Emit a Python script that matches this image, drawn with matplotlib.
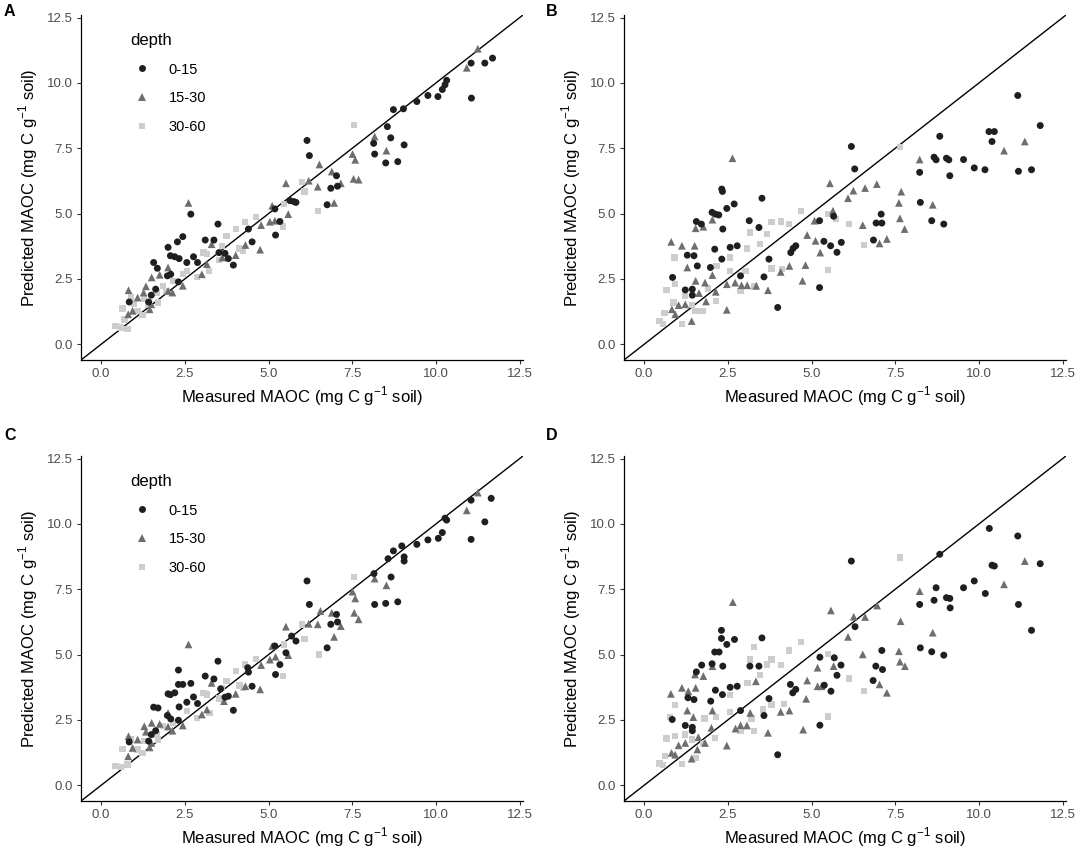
import matplotlib
matplotlib.use("Agg")
import matplotlib.pyplot as plt
from matplotlib.lines import Line2D

plt.rcParams['font.family'] = ['Liberation Sans', 'DejaVu Sans']

# ---------------- data (measured x, predicted y) ----------------
depth_labels = ["0-15", "15-30", "30-60"]
panel_letters = ["A", "B", "C", "D"]
tick_values = [0.0, 2.5, 5.0, 7.5, 10.0, 12.5]

# Panel A
a015_x = [11.69, 11.46, 11.05, 11.06, 10.32, 10.27, 10.19, 10.06, 9.76, 9.43, 9.03, 8.73, 9.05, 8.55, 8.65, 8.14, 8.17, 8.50, 8.86, 6.15,
          6.22, 6.75, 6.86, 7.03, 7.06, 5.19, 5.21, 5.34, 5.64, 5.76, 5.82, 4.40, 4.51, 3.49, 3.37, 3.11, 3.52, 3.70, 3.80, 3.95,
          2.68, 2.44, 2.28, 2.00, 2.07, 2.20, 2.33, 2.56, 2.76, 2.88, 1.98, 2.08, 2.31, 1.57, 1.68, 1.63, 1.50, 1.42, 0.84]
a015_y = [10.95, 10.76, 10.76, 9.42, 10.10, 9.93, 9.75, 9.48, 9.52, 9.29, 9.01, 8.98, 7.63, 8.33, 7.90, 7.69, 7.28, 6.94, 6.99, 7.80,
          7.22, 5.34, 5.97, 6.45, 6.05, 5.18, 4.18, 4.70, 5.50, 5.46, 5.43, 4.41, 3.92, 4.60, 3.99, 3.99, 3.51, 3.48, 3.28, 3.03,
          4.98, 4.12, 3.92, 3.71, 3.39, 3.35, 3.28, 3.13, 3.35, 3.13, 2.62, 2.68, 2.39, 3.13, 2.91, 2.11, 1.88, 1.62, 1.62]
a1530_x = [11.25, 10.92, 8.17, 8.52, 7.51, 7.59, 7.54, 7.69, 6.52, 6.89, 6.47, 6.20, 7.16, 6.96, 5.52, 5.11, 5.04, 5.19, 5.59, 4.78,
           4.31, 4.02, 4.75, 3.62, 3.30, 3.16, 3.01, 2.61, 2.44, 2.13, 2.00, 1.75, 1.51, 1.34, 1.27, 0.82, 1.09, 0.94, 0.81, 1.50,
           1.45, 2.00]
a1530_y = [11.31, 10.58, 7.95, 7.41, 7.28, 7.06, 6.33, 6.30, 6.88, 6.61, 6.03, 6.26, 6.16, 5.41, 6.16, 5.30, 4.69, 4.73, 4.98, 4.56,
           3.80, 3.41, 3.62, 3.32, 3.83, 3.07, 2.68, 5.41, 2.24, 1.98, 2.94, 2.66, 2.56, 2.22, 1.98, 2.07, 1.79, 1.28, 1.15, 1.53,
           1.34, 2.04]
a3060_x = [7.56, 6.00, 6.08, 6.48, 5.44, 5.47, 4.63, 4.30, 4.02, 3.74, 3.62, 3.52, 3.22, 3.06, 3.16, 4.13, 4.23, 2.86, 2.56, 2.15,
           1.85, 1.70, 1.65, 1.29, 1.09, 0.89, 0.64, 0.43, 0.59, 0.79, 1.24, 0.98, 1.40, 1.95, 0.70, 2.45]
a3060_y = [8.40, 6.22, 5.84, 5.11, 4.51, 5.37, 4.86, 4.69, 4.41, 4.15, 3.77, 3.23, 2.81, 3.51, 3.45, 3.67, 3.58, 2.58, 2.81, 2.43,
           2.24, 1.60, 1.98, 1.73, 1.28, 1.79, 1.37, 0.70, 0.64, 0.58, 1.11, 1.55, 1.50, 2.05, 0.95, 2.70]

# Panel B
b015_x = [11.83, 11.16, 11.18, 11.57, 10.46, 10.39, 10.30, 10.18, 9.86, 9.54, 9.13, 9.10, 9.03, 8.95, 8.83, 8.72, 8.66, 8.59, 8.25, 8.23,
          6.19, 6.29, 7.08, 7.10, 6.93, 6.85, 5.24, 5.24, 5.37, 5.57, 5.66, 5.76, 5.89, 4.53, 4.45, 4.38, 3.52, 3.43, 3.14, 3.73,
          3.58, 3.99, 2.88, 2.78, 2.69, 2.57, 2.47, 2.32, 2.35, 2.32, 2.13, 2.03, 2.23, 2.11, 1.98, 1.56, 1.71, 1.49, 1.59, 1.29,
          1.44, 1.44, 1.23, 0.85, 2.34]
b015_y = [8.37, 9.52, 6.62, 6.68, 8.14, 7.76, 8.14, 6.68, 6.75, 7.07, 6.45, 7.06, 7.12, 4.60, 7.96, 7.06, 7.16, 4.73, 5.43, 6.58,
          7.57, 6.71, 4.98, 4.64, 4.64, 3.99, 4.73, 2.17, 3.94, 3.77, 4.90, 3.52, 3.90, 3.77, 3.67, 3.51, 5.59, 4.47, 4.73, 3.26,
          2.58, 1.41, 2.62, 3.77, 5.37, 3.71, 5.20, 5.94, 4.41, 3.26, 4.98, 5.05, 4.95, 3.64, 2.94, 4.70, 4.60, 3.39, 3.00, 3.41,
          2.11, 1.88, 2.08, 2.56, 5.85]
b1530_x = [11.37, 10.75, 8.23, 8.62, 7.68, 7.61, 7.64, 7.78, 6.95, 7.03, 7.25, 6.60, 6.53, 6.25, 6.09, 5.55, 5.64, 5.09, 5.12, 5.26,
           4.87, 4.82, 4.73, 4.34, 4.08, 3.70, 3.35, 3.08, 2.91, 2.72, 2.47, 2.47, 2.64, 2.04, 2.04, 1.82, 1.77, 1.54, 1.51, 1.13,
           0.81, 1.29, 1.54, 1.64, 1.85, 1.23, 1.03, 0.83, 0.93, 1.42, 2.14]
b1530_y = [7.76, 7.41, 7.07, 5.34, 5.84, 5.41, 4.82, 4.41, 6.13, 3.86, 4.03, 5.98, 4.56, 5.88, 5.59, 6.16, 5.11, 4.73, 3.96, 3.51,
           4.18, 3.03, 2.43, 3.00, 2.77, 2.07, 2.24, 2.26, 2.26, 2.36, 2.30, 1.32, 7.12, 4.77, 2.65, 2.36, 4.50, 4.44, 3.77, 3.77,
           3.92, 2.94, 2.43, 1.96, 1.64, 1.53, 1.50, 1.34, 1.15, 0.89, 2.01]
b3060_x = [7.64, 6.12, 6.56, 5.50, 5.50, 5.73, 4.68, 4.08, 3.81, 4.32, 3.68, 3.47, 3.17, 3.08, 3.03, 3.30, 2.88, 2.57, 2.57, 3.81,
           4.11, 2.16, 2.14, 1.91, 1.74, 1.54, 1.13, 0.93, 0.91, 0.67, 0.61, 0.46, 0.56, 0.88, 1.23, 1.44]
b3060_y = [7.54, 4.60, 3.81, 2.85, 4.98, 4.79, 5.11, 4.70, 4.67, 4.60, 4.22, 3.83, 4.28, 3.67, 2.81, 2.21, 2.04, 3.32, 2.81, 2.90,
           2.88, 3.00, 1.66, 2.13, 1.28, 1.28, 0.77, 2.30, 3.32, 2.08, 1.21, 0.89, 0.77, 1.60, 1.85, 1.50]

# Panel C
c015_x = [11.65, 11.05, 11.05, 11.46, 10.32, 10.27, 10.19, 10.07, 9.76, 9.43, 8.98, 8.73, 8.57, 9.05, 9.05, 8.15, 8.66, 8.17, 8.50, 8.86,
          6.15, 6.22, 6.75, 6.86, 7.03, 7.06, 5.19, 5.21, 5.34, 5.52, 5.69, 5.82, 4.38, 4.40, 4.51, 3.49, 3.37, 3.11, 3.57, 3.70,
          3.80, 3.95, 2.68, 2.31, 2.31, 2.44, 2.00, 2.07, 2.20, 2.33, 2.56, 2.76, 2.88, 1.98, 2.08, 2.31, 1.57, 1.70, 1.63, 1.50,
          1.42, 0.84]
c015_y = [10.98, 10.91, 9.41, 10.08, 10.15, 10.22, 9.67, 9.45, 9.39, 9.22, 9.16, 8.97, 8.67, 8.74, 8.58, 8.10, 7.97, 6.92, 6.96, 7.02,
          7.82, 6.92, 5.26, 6.16, 6.54, 6.25, 5.33, 4.24, 4.62, 5.07, 5.71, 5.52, 4.50, 4.33, 3.79, 4.75, 4.07, 4.18, 3.69, 3.37,
          3.41, 2.87, 3.90, 4.41, 3.86, 3.86, 3.50, 3.47, 3.54, 3.00, 3.18, 3.38, 3.13, 2.67, 2.54, 2.49, 2.99, 2.96, 2.09, 1.94,
          1.69, 1.66]
c1530_x = [11.25, 10.92, 8.17, 8.52, 7.51, 7.59, 7.56, 7.69, 6.55, 6.89, 6.47, 6.20, 7.16, 6.96, 5.52, 5.11, 5.04, 5.21, 5.59, 4.78,
           4.31, 4.02, 4.75, 3.67, 3.30, 3.16, 3.01, 2.61, 2.44, 2.13, 2.00, 1.75, 1.51, 1.29, 0.82, 1.09, 0.94, 0.81, 1.50, 1.34,
           1.45, 2.00]
c1530_y = [11.20, 10.52, 7.91, 7.65, 7.41, 7.15, 6.60, 6.35, 6.67, 6.60, 6.16, 6.18, 6.09, 5.68, 6.07, 5.33, 4.81, 4.92, 4.98, 4.60,
           3.79, 3.50, 3.67, 3.22, 3.92, 2.90, 2.71, 5.39, 2.29, 2.09, 2.77, 2.35, 2.39, 2.26, 1.88, 1.75, 1.43, 1.11, 1.62, 2.05,
           1.45, 2.25]
c3060_x = [7.56, 6.00, 6.08, 6.50, 5.44, 5.47, 4.63, 4.30, 4.02, 3.74, 3.52, 3.24, 3.06, 3.16, 4.13, 4.23, 2.86, 2.56, 2.15, 1.85,
           1.70, 1.65, 1.29, 1.09, 0.89, 0.64, 0.43, 0.59, 0.79, 1.24, 3.62]
c3060_y = [7.97, 6.16, 5.61, 5.01, 4.18, 5.39, 4.84, 4.62, 4.37, 3.98, 3.32, 2.77, 3.54, 3.47, 3.82, 3.73, 2.58, 2.84, 2.39, 2.26,
           1.75, 1.94, 1.69, 1.37, 1.75, 1.40, 0.73, 0.69, 0.79, 1.24, 3.72]

# Panel D
d015_x = [11.83, 11.16, 11.18, 11.57, 10.31, 10.39, 10.46, 10.19, 9.86, 9.54, 9.14, 9.03, 9.13, 8.95, 8.83, 8.72, 8.66, 8.59, 8.25, 8.23,
          6.19, 6.30, 7.10, 7.12, 6.92, 6.84, 5.25, 5.25, 5.38, 5.58, 5.68, 5.76, 5.88, 4.53, 4.44, 4.37, 3.52, 3.43, 3.16, 3.73,
          3.58, 3.99, 2.88, 2.78, 2.70, 2.57, 2.47, 2.31, 2.31, 2.35, 2.34, 2.11, 2.24, 2.03, 2.13, 1.99, 1.56, 1.72, 1.49, 1.31,
          1.44, 1.44, 1.23, 0.84]
d015_y = [8.48, 9.54, 6.92, 5.93, 9.83, 8.42, 8.39, 7.34, 7.82, 7.56, 6.79, 7.18, 7.15, 4.98, 8.84, 7.56, 7.08, 5.11, 5.26, 6.92,
          8.58, 6.07, 5.16, 4.43, 4.56, 4.01, 4.90, 2.30, 3.83, 3.60, 4.88, 4.21, 4.60, 3.67, 3.54, 3.86, 5.64, 4.56, 4.56, 3.32,
          2.67, 1.17, 2.86, 3.79, 5.58, 3.75, 5.39, 5.93, 5.62, 4.56, 3.47, 5.10, 5.10, 4.65, 3.64, 3.22, 4.34, 4.60, 3.28, 3.35,
          2.22, 2.09, 2.29, 2.52]
d1530_x = [11.37, 10.75, 8.23, 8.62, 7.66, 7.61, 7.64, 7.79, 6.96, 7.03, 7.25, 6.60, 6.53, 6.26, 6.09, 5.58, 5.66, 5.18, 5.18, 5.30,
           4.87, 4.84, 4.75, 4.34, 4.08, 3.70, 3.34, 3.17, 3.07, 2.88, 2.73, 2.65, 2.47, 2.04, 2.04, 1.77, 1.54, 1.52, 1.32, 1.13,
           0.80, 1.29, 1.47, 1.62, 1.82, 2.01, 1.23, 1.03, 0.82, 0.93, 1.42, 1.59]
d1530_y = [8.58, 7.69, 7.43, 5.84, 6.28, 5.13, 4.73, 4.56, 6.88, 3.86, 3.54, 6.44, 5.01, 6.45, 5.68, 6.69, 4.56, 4.50, 3.79, 3.79,
           4.01, 3.31, 2.13, 2.86, 2.81, 2.01, 3.98, 2.77, 2.29, 2.30, 2.17, 7.01, 1.52, 2.86, 4.56, 4.18, 3.73, 4.24, 3.60, 3.73,
           3.50, 2.86, 2.61, 1.84, 1.62, 2.20, 1.62, 1.53, 1.24, 1.17, 1.02, 1.37]
d3060_x = [7.64, 6.12, 6.56, 5.50, 5.50, 4.68, 4.32, 4.08, 3.81, 3.68, 3.29, 3.17, 3.47, 3.09, 2.57, 2.57, 3.21, 3.29, 2.88, 3.55,
           3.81, 4.17, 2.14, 2.11, 1.80, 1.75, 1.54, 1.13, 0.93, 0.77, 0.67, 0.62, 0.46, 0.57, 0.93, 1.23, 1.44]
d3060_y = [8.71, 4.09, 3.60, 2.64, 5.03, 5.49, 5.16, 4.60, 4.81, 4.62, 5.29, 4.81, 4.21, 3.92, 3.45, 2.81, 2.55, 2.07, 2.09, 2.90,
           3.09, 3.12, 2.61, 1.81, 2.55, 1.62, 1.05, 0.82, 3.07, 2.61, 1.79, 1.11, 0.83, 0.77, 1.88, 1.94, 1.75]

panels = {
    "A": [(a015_x, a015_y), (a1530_x, a1530_y), (a3060_x, a3060_y)],
    "B": [(b015_x, b015_y), (b1530_x, b1530_y), (b3060_x, b3060_y)],
    "C": [(c015_x, c015_y), (c1530_x, c1530_y), (c3060_x, c3060_y)],
    "D": [(d015_x, d015_y), (d1530_x, d1530_y), (d3060_x, d3060_y)],
}

# ---------------- styling ----------------
colors = ["#1f1f1f", "#6e6e6e", "#cdcdcd"]
markers = ["o", "^", "s"]
sizes = [25, 31, 21]

W, H = 1084, 850
fig = plt.figure(figsize=(W / 100, H / 100), dpi=100)

# axes boxes in pixels: (left, top, right, bottom)
boxes = {
    "A": (81, 15, 523, 360),
    "B": (624, 15, 1066, 360),
    "C": (81, 456, 523, 801),
    "D": (624, 456, 1066, 801),
}
letter_pos = {"A": (4, 4), "B": (546, 4), "C": (4, 428), "D": (546, 428)}

xlabel = r"Measured MAOC (mg C g$^{\mathregular{-1}}$ soil)"
ylabel = r"Predicted MAOC (mg C g$^{\mathregular{-1}}$ soil)"

for key in panel_letters:
    l, t, r, b = boxes[key]
    ax = fig.add_axes([l / W, 1 - b / H, (r - l) / W, (b - t) / H])
    ax.set_xlim(-0.6, 12.6)
    ax.set_ylim(-0.6, 12.6)
    ax.axline((0, 0), slope=1, color="black", lw=1.0, zorder=1)
    # draw light -> dark so darker symbols lie on top
    for i in [2, 1, 0]:
        xs, ys = panels[key][i]
        ax.scatter(xs, ys, s=sizes[i], marker=markers[i], c=colors[i],
                   edgecolors="none", zorder=2 + (2 - i), label=depth_labels[i])
    for side in ["top", "right"]:
        ax.spines[side].set_visible(False)
    for side in ["left", "bottom"]:
        ax.spines[side].set_linewidth(0.9)
        ax.spines[side].set_color("black")
    ax.set_xticks(tick_values)
    ax.set_yticks(tick_values)
    ax.set_xticklabels([f"{v:.1f}" for v in tick_values])
    ax.set_yticklabels([f"{v:.1f}" for v in tick_values])
    ax.tick_params(length=3, width=0.8, color="#333333", labelcolor="#4d4d4d",
                   labelsize=9.5, pad=3)
    ax.set_xlabel(xlabel, fontsize=12, labelpad=3)
    ax.set_ylabel(ylabel, fontsize=12, labelpad=5)
    fig.text(letter_pos[key][0] / W, 1 - letter_pos[key][1] / H, key,
             fontsize=11.5, fontweight="bold", ha="left", va="top")

    if key in ("A", "C"):
        handles = [Line2D([], [], linestyle="none", marker=markers[i],
                          markersize=[5, 5.6, 4.6][i], color=colors[i],
                          markeredgewidth=0) for i in range(3)]
        ax.legend(handles, depth_labels, title="depth", loc="upper left",
                  bbox_to_anchor=(0.112, 0.948), frameon=False,
                  fontsize=10.5, title_fontsize=12, borderpad=0,
                  borderaxespad=0, handlelength=1.6, handletextpad=1.0,
                  labelspacing=1.0, alignment="left")

fig.savefig("out.png", dpi=100)
